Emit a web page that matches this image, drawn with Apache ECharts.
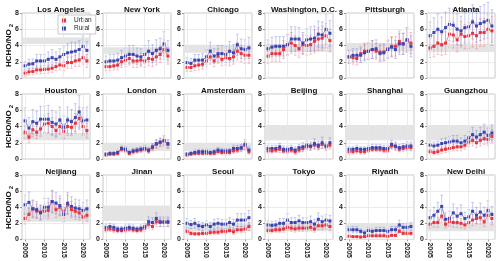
<!DOCTYPE html>
<html><head><meta charset="utf-8">
<script src="https://cdn.jsdelivr.net/npm/echarts@6/dist/echarts.min.js"></script>
<style>html,body{margin:0;padding:0;background:#fff}#c{width:500px;height:261px}</style>
</head><body><div id="c"></div>
<script>
const years = [2005,2006,2007,2008,2009,2010,2011,2012,2013,2014,2015,2016,2017,2018,2019,2020,2021];
const xTicks = [2005,2010,2015,2020];
const yTicks = [0,2,4,6,8];
const cities = ['Los Angeles','New York','Chicago','Washington, D.C.','Pittsburgh','Atlanta',
  'Houston','London','Amsterdam','Beijing','Shanghai','Guangzhou',
  'Neijiang','Jinan','Seoul','Tokyo','Riyadh','New Delhi'];
const bandLow  = [4.2,3.0,3.1,3.2,3.3,3.2, 2.3,1.0,1.0,2.3,2.3,2.3, 2.2,2.3,1.0,1.0,1.0,1.0];
const bandHigh = [5.0,3.8,4.1,4.2,4.3,4.2, 3.2,2.0,2.0,4.2,4.2,4.2, 4.1,4.2,2.0,2.0,2.0,2.0];
const urbanValues = [
  [0.6,0.75,0.8,1.0,1.0,1.05,1.1,1.2,1.4,1.6,1.5,1.9,1.9,2.1,2.2,2.5,2.1],
  [1.4,1.4,1.5,1.6,2.0,2.2,2.4,2.1,2.1,2.2,2.1,2.4,2.3,2.6,2.9,3.5,2.7],
  [1.3,1.3,1.5,1.6,1.7,2.1,2.6,2.1,2.7,2.3,2.5,2.4,2.6,3.3,3.0,2.8,2.8],
  [2.7,3.0,3.0,3.0,3.5,4.1,4.3,4.0,3.6,4.1,4.0,4.1,4.5,4.8,4.9,5.2,4.6],
  [2.6,2.5,2.4,3.0,3.3,3.3,3.5,3.3,3.2,3.2,3.6,3.9,3.9,4.5,4.2,4.7,4.3],
  [3.7,3.9,4.3,4.1,4.3,5.4,5.3,4.7,5.4,5.1,5.2,5.5,5.2,5.6,5.6,6.0,5.8],
  [3.3,2.7,3.6,3.3,3.7,4.3,4.4,4.0,3.5,4.0,3.4,4.0,3.9,4.4,5.0,4.0,3.5],
  [0.5,0.6,0.6,0.7,1.2,1.1,0.7,0.9,1.0,1.1,1.2,1.0,1.4,1.8,2.0,2.2,1.8],
  [0.5,0.6,0.7,0.7,0.7,0.7,0.7,0.7,0.9,0.8,0.8,0.8,1.0,1.1,1.3,1.7,0.9],
  [1.0,1.0,1.1,1.2,1.0,1.0,1.1,0.9,1.1,1.3,1.5,1.5,1.7,1.5,1.8,1.5,1.7],
  [0.9,0.9,1.0,0.9,0.9,1.1,1.2,1.2,1.2,1.1,1.1,1.6,1.5,1.2,1.3,1.4,1.4],
  [0.9,0.8,0.9,1.1,1.2,1.3,1.4,1.5,1.5,1.7,2.1,2.3,2.0,2.3,2.5,2.4,2.8],
  [2.6,3.1,3.8,3.5,3.4,3.5,3.6,4.7,3.7,4.0,3.5,4.3,3.7,3.5,3.3,2.8,3.0],
  [1.2,1.3,1.2,1.1,1.1,1.2,1.3,1.2,1.1,1.2,1.4,1.9,1.6,2.2,2.1,2.1,2.1],
  [1.0,0.75,0.7,0.7,0.75,0.75,0.85,0.9,0.9,1.0,1.0,1.1,0.95,1.2,1.2,1.3,1.6],
  [1.1,1.1,1.2,1.2,1.3,1.5,1.4,1.3,1.4,1.4,1.4,1.5,1.3,1.7,1.7,1.8,1.6],
  [0.4,0.35,0.35,0.3,0.35,0.45,0.45,0.45,0.45,0.45,0.4,0.5,0.5,1.0,0.75,0.75,0.75],
  [1.9,2.1,2.1,2.9,1.9,2.2,2.1,2.1,2.0,1.8,2.1,2.4,2.6,2.7,2.2,3.0,2.6]
];
const ruralValues = [
  [1.5,1.7,1.75,2.1,2.1,2.1,2.3,2.5,2.3,2.6,2.9,3.1,3.2,3.3,3.5,3.9,3.4],
  [2.0,2.1,2.1,2.2,2.5,2.7,2.9,2.9,2.7,2.6,2.9,3.3,3.0,3.4,3.6,4.2,3.4],
  [1.9,1.8,2.2,2.2,2.2,2.6,3.3,2.7,3.0,3.0,2.9,3.3,3.1,4.1,3.6,3.5,3.7],
  [3.6,3.8,3.9,3.9,3.9,4.1,4.8,4.8,4.8,4.3,4.7,4.8,4.9,5.4,5.3,6.0,5.5],
  [2.6,2.8,2.8,2.8,3.1,3.3,3.5,3.6,3.0,3.1,3.5,3.8,3.5,4.2,4.2,4.7,3.9],
  [5.2,5.6,6.0,5.7,6.2,6.6,6.5,6.0,5.8,6.2,6.3,6.9,6.4,6.7,6.9,7.1,6.4],
  [4.7,3.8,4.6,4.4,4.9,4.9,4.9,4.5,4.3,4.8,3.9,4.8,4.6,5.1,5.8,4.7,4.8],
  [0.6,0.7,0.7,0.8,1.3,1.2,0.8,1.0,1.1,1.2,1.3,1.1,1.5,1.9,2.1,2.3,1.9],
  [0.6,0.7,0.8,0.9,0.9,0.9,0.8,0.9,1.1,1.0,1.0,1.0,1.3,1.3,1.4,1.8,1.1],
  [1.3,1.3,1.3,1.5,1.2,1.2,1.3,1.1,1.4,1.5,1.7,1.6,1.9,1.7,2.0,1.6,2.0],
  [1.2,1.2,1.3,1.2,1.2,1.3,1.4,1.4,1.4,1.3,1.3,1.8,1.6,1.4,1.5,1.6,1.6],
  [1.7,1.6,1.7,1.9,2.0,2.1,2.2,2.2,2.0,2.2,2.6,3.0,2.7,3.0,3.3,2.9,3.2],
  [4.3,4.6,3.8,3.7,3.3,4.0,4.0,4.7,4.5,4.2,3.1,4.5,4.1,3.9,3.8,3.6,3.8],
  [1.5,1.6,1.5,1.3,1.3,1.4,1.5,1.4,1.3,1.4,1.6,2.2,2.1,2.6,2.2,2.2,2.2],
  [2.0,1.85,2.0,1.7,1.6,1.8,1.6,1.9,2.0,1.9,1.9,2.1,1.9,2.4,2.4,2.4,2.7],
  [1.8,1.75,1.8,2.0,2.0,2.4,2.1,2.1,2.3,2.1,2.1,2.2,1.9,2.5,2.2,2.4,2.3],
  [1.2,1.2,1.2,1.0,0.8,1.1,1.0,1.1,1.1,1.1,1.0,1.2,1.2,1.8,1.5,1.5,1.6],
  [2.7,3.0,3.5,4.1,2.5,2.6,3.3,2.9,3.2,2.6,2.8,3.5,3.0,3.4,3.0,3.6,3.1]
];
const urbanErrors = [
  [0.4,0.4,0.4,0.5,0.5,0.5,0.5,0.5,0.5,0.6,0.6,0.7,0.7,0.7,0.8,0.8,0.8],
  [0.5,0.5,0.5,0.6,0.7,0.8,0.8,0.8,0.8,0.8,0.8,0.9,0.9,1.0,1.0,1.2,1.0],
  [0.5,0.5,0.6,0.6,0.6,0.7,0.9,0.7,0.9,0.8,0.9,0.9,0.9,1.1,1.0,1.0,1.0],
  [0.9,1.0,1.0,1.0,1.1,1.2,1.3,1.2,1.1,1.2,1.2,1.2,1.4,1.4,1.5,1.5,1.4],
  [0.8,0.8,0.8,0.9,1.0,1.0,1.1,1.0,1.0,1.0,1.1,1.2,1.2,1.3,1.3,1.5,1.3],
  [1.2,1.3,1.4,1.3,1.4,1.6,1.6,1.5,1.6,1.5,1.6,1.7,1.6,1.7,1.7,1.8,1.8],
  [0.8,0.7,0.9,0.8,0.9,1.1,1.2,1.1,0.9,1.0,0.9,1.1,1.0,1.2,1.4,1.1,0.9],
  [0.2,0.2,0.2,0.2,0.3,0.3,0.2,0.3,0.3,0.3,0.3,0.3,0.4,0.5,0.5,0.6,0.5],
  [0.2,0.2,0.2,0.2,0.2,0.2,0.2,0.2,0.3,0.3,0.3,0.3,0.3,0.3,0.4,0.5,0.3],
  [0.3,0.3,0.3,0.4,0.3,0.3,0.3,0.3,0.3,0.4,0.4,0.4,0.5,0.4,0.5,0.4,0.5],
  [0.3,0.3,0.3,0.3,0.3,0.3,0.3,0.3,0.3,0.3,0.3,0.4,0.4,0.3,0.4,0.4,0.4],
  [0.3,0.3,0.3,0.4,0.4,0.4,0.4,0.5,0.5,0.5,0.6,0.7,0.6,0.7,0.7,0.7,0.8],
  [0.7,0.8,1.0,0.9,0.9,0.9,1.0,1.3,1.0,1.1,0.9,1.2,1.0,1.0,0.9,0.8,0.8],
  [0.3,0.3,0.3,0.3,0.3,0.3,0.3,0.3,0.3,0.3,0.4,0.5,0.4,0.6,0.5,0.5,0.5],
  [0.3,0.2,0.2,0.2,0.2,0.2,0.3,0.3,0.3,0.3,0.3,0.3,0.3,0.4,0.4,0.4,0.5],
  [0.3,0.3,0.3,0.3,0.4,0.4,0.4,0.4,0.4,0.4,0.4,0.4,0.4,0.5,0.5,0.5,0.5],
  [0.1,0.1,0.1,0.1,0.1,0.1,0.1,0.1,0.1,0.1,0.1,0.1,0.1,0.2,0.2,0.2,0.2],
  [0.5,0.6,0.6,0.8,0.5,0.6,0.6,0.6,0.6,0.5,0.6,0.7,0.7,0.8,0.6,0.9,0.8]
];
const ruralErrors = [
  [0.5,0.6,0.6,0.8,0.8,0.8,0.9,1.0,0.9,1.0,1.0,1.1,1.2,1.1,1.1,1.3,1.1],
  [0.7,0.8,0.8,0.8,0.9,1.0,1.1,1.1,1.0,1.0,1.1,1.3,1.1,1.3,1.3,1.5,1.2],
  [0.6,0.6,0.7,0.7,0.8,0.9,1.1,0.9,1.0,1.0,1.0,1.2,1.0,1.3,1.2,1.2,1.3],
  [1.1,1.2,1.2,1.2,1.2,1.3,1.5,1.5,1.4,1.3,1.4,1.5,1.5,1.6,1.6,1.8,1.6],
  [0.8,0.8,0.8,0.9,1.0,1.0,1.1,1.1,1.0,1.0,1.1,1.2,1.1,1.3,1.3,1.5,1.3],
  [1.7,1.8,1.9,1.8,1.9,2.0,2.0,1.9,1.8,1.9,2.0,2.1,2.0,2.1,2.1,2.2,2.0],
  [1.6,1.3,1.5,1.5,1.6,1.6,1.7,1.5,1.5,1.6,1.4,1.6,1.5,1.7,2.0,1.6,1.6],
  [0.2,0.2,0.2,0.3,0.3,0.3,0.3,0.3,0.3,0.3,0.4,0.3,0.4,0.5,0.5,0.6,0.5],
  [0.2,0.2,0.3,0.3,0.3,0.3,0.3,0.3,0.3,0.3,0.3,0.3,0.4,0.4,0.4,0.6,0.4],
  [0.4,0.4,0.4,0.4,0.4,0.4,0.4,0.4,0.4,0.5,0.5,0.5,0.6,0.5,0.7,0.5,0.6],
  [0.3,0.3,0.4,0.3,0.3,0.4,0.4,0.4,0.4,0.4,0.4,0.5,0.5,0.4,0.4,0.5,0.5],
  [0.5,0.5,0.5,0.6,0.6,0.7,0.7,0.7,0.6,0.7,0.8,0.9,0.8,0.9,1.0,0.9,1.0],
  [1.2,1.3,1.1,1.0,0.9,1.1,1.1,1.4,1.3,1.2,0.9,1.3,1.2,1.1,1.1,1.0,1.1],
  [0.4,0.4,0.4,0.3,0.3,0.4,0.4,0.4,0.3,0.4,0.4,0.6,0.6,0.7,0.6,0.6,0.6],
  [0.6,0.5,0.6,0.5,0.5,0.5,0.5,0.6,0.6,0.6,0.6,0.6,0.6,0.8,0.8,0.8,0.9],
  [0.5,0.5,0.5,0.6,0.6,0.8,0.6,0.6,0.7,0.6,0.6,0.7,0.6,0.8,0.7,0.7,0.7],
  [0.4,0.4,0.4,0.3,0.3,0.4,0.3,0.4,0.4,0.4,0.3,0.4,0.4,0.6,0.5,0.5,0.5],
  [0.9,1.0,1.1,1.4,0.8,0.9,1.1,1.0,1.1,0.8,0.9,1.1,1.0,1.1,1.0,1.2,1.0]
];

const FONT = "'Liberation Sans Narrow','Liberation Sans',sans-serif";
const colLeft = [22,103,184,265,346,427];
const rowTop = [13,94,175];
const W = 68, H = 65;
const URBAN = '#e8343f', URBAN_L = '#f07a82', URBAN_E = 'rgba(240,120,130,0.45)';
const RURAL = '#3d45b0', RURAL_L = '#7b82d2', RURAL_E = 'rgba(120,130,215,0.45)';

const grids = [], xAxes = [], yAxes = [], titles = [], series = [];
function errRender(color) {
  return function (params, api) {
    const x = api.value(0), lo = api.value(1), hi = api.value(2);
    const a = api.coord([x, lo]), b = api.coord([x, hi]);
    const cw = 1.4;
    const st = { stroke: color, lineWidth: 0.9 };
    return { type: 'group', children: [
      { type: 'line', shape: { x1: a[0], y1: a[1], x2: b[0], y2: b[1] }, style: st },
      { type: 'line', shape: { x1: a[0]-cw, y1: a[1], x2: a[0]+cw, y2: a[1] }, style: st },
      { type: 'line', shape: { x1: b[0]-cw, y1: b[1], x2: b[0]+cw, y2: b[1] }, style: st }
    ]};
  };
}
cities.forEach((name, i) => {
  const r = Math.floor(i / 6), c = i % 6;
  grids.push({ left: colLeft[c], top: rowTop[r], width: W, height: H, show: true,
    borderColor: '#c8c8c8', borderWidth: 1, backgroundColor: '#fff' });
  xAxes.push({ gridIndex: i, type: 'value', min: 2004.2, max: 2021.8,
    axisLine: { show: false },
    axisTick: { show: r === 2, customValues: xTicks, length: 2, lineStyle: { color: '#999' } },
    axisLabel: { show: r === 2, customValues: xTicks, rotate: -90, fontSize: 7, fontWeight: 'bold',
      color: '#222', fontFamily: FONT, margin: 3, formatter: v => String(Math.round(v)) },
    splitLine: { show: false }
  });
  yAxes.push({ gridIndex: i, type: 'value', min: 0, max: 8, interval: 2,
    axisLine: { show: false },
    axisTick: { show: true, length: 2, lineStyle: { color: '#999' } },
    axisLabel: { fontSize: 7, fontWeight: 'bold', color: '#222', fontFamily: FONT, margin: 3 },
    splitLine: { show: true, lineStyle: { color: '#e6e6e6', width: 0.8 } }
  });
  titles.push({ text: name, left: colLeft[c] + W / 2, top: rowTop[r] - 12, textAlign: 'center',
    textStyle: { fontSize: 8, fontWeight: 'bold', color: '#111', fontFamily: FONT } });
  const vlines = xTicks.map(v => ({ xAxis: v }));
  series.push({ type: 'line', xAxisIndex: i, yAxisIndex: i, data: [], silent: true, z: 1,
    markArea: { silent: true, itemStyle: { color: '#e4e4e4' },
      data: [[{ yAxis: bandLow[i] }, { yAxis: bandHigh[i] }]] },
    markLine: { silent: true, symbol: 'none', label: { show: false },
      lineStyle: { color: '#e6e6e6', width: 0.8, type: 'solid' }, data: vlines }
  });
  series.push({ type: 'custom', xAxisIndex: i, yAxisIndex: i, z: 2, silent: true,
    renderItem: errRender(URBAN_E), encode: { x: 0, y: [1, 2] },
    data: years.map((y, k) => [y, urbanValues[i][k] - urbanErrors[i][k], urbanValues[i][k] + urbanErrors[i][k]]) });
  series.push({ type: 'custom', xAxisIndex: i, yAxisIndex: i, z: 2, silent: true,
    renderItem: errRender(RURAL_E), encode: { x: 0, y: [1, 2] },
    data: years.map((y, k) => [y, ruralValues[i][k] - ruralErrors[i][k], ruralValues[i][k] + ruralErrors[i][k]]) });
  series.push({ name: 'Urban', type: 'line', xAxisIndex: i, yAxisIndex: i, z: 3,
    data: years.map((y, k) => [y, urbanValues[i][k]]),
    symbol: 'rect', symbolSize: 3, itemStyle: { color: URBAN },
    lineStyle: { color: URBAN_L, width: 0.9 }, animation: false });
  series.push({ name: 'Rural', type: 'line', xAxisIndex: i, yAxisIndex: i, z: 4,
    data: years.map((y, k) => [y, ruralValues[i][k]]),
    symbol: 'rect', symbolSize: 3, itemStyle: { color: RURAL },
    lineStyle: { color: RURAL_L, width: 0.9 }, animation: false });
});

const graphics = rowTop.map(t => ({
  type: 'text', x: 9, y: t + H / 2, rotation: Math.PI / 2,
  style: { text: '{a|HCHO/NO}{s|2}', align: 'center', verticalAlign: 'middle',
    rich: { a: { fontSize: 8, fontWeight: 'bold', fill: '#111', fontFamily: FONT },
            s: { fontSize: 6, fontWeight: 'bold', fill: '#111', fontFamily: FONT, padding: [5, 0, 0, 2] } } }
}));

const chart = echarts.init(document.getElementById('c'), null, { renderer: 'canvas' });
chart.setOption({
  animation: false,
  backgroundColor: '#fff',
  title: titles,
  grid: grids, xAxis: xAxes, yAxis: yAxes,
  legend: { data: ['Urban', 'Rural'], orient: 'vertical', left: 58, top: 15,
    backgroundColor: '#fff', borderColor: '#bbb', borderWidth: 0.8, padding: [2, 4, 2, 4],
    itemGap: 1, itemWidth: 4, itemHeight: 4, icon: 'rect',
    textStyle: { fontSize: 6.5, color: '#222', fontFamily: FONT, padding: [0, 0, 0, 3] } },
  graphic: graphics,
  series: series
});
</script></body></html>
